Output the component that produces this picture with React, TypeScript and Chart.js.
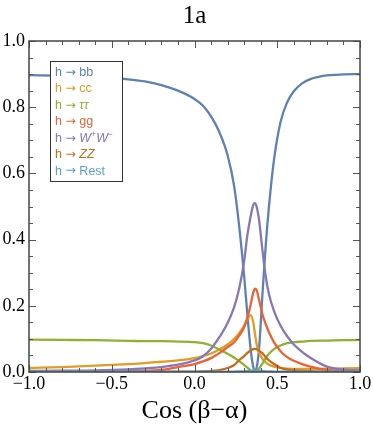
import React, { useEffect, useRef } from "react";
import { Chart, registerables } from "chart.js";

Chart.register(...registerables);

// cos(beta - alpha) sample positions
const xs = [-1, -0.8, -0.6, -0.4, -0.3, -0.2, -0.1, 0, 0.05, 0.1, 0.15, 0.2, 0.24, 0.27, 0.3, 0.32, 0.34, 0.355, 0.365, 0.375, 0.39, 0.41, 0.43, 0.45, 0.48, 0.52, 0.56, 0.6, 0.65, 0.7, 0.8, 0.9, 1];

const brBB = [0.897, 0.895, 0.892, 0.884, 0.878, 0.867, 0.85, 0.825, 0.805, 0.772, 0.725, 0.655, 0.56, 0.44, 0.29, 0.17, 0.065, 0.015, 0.004, 0.012, 0.07, 0.23, 0.38, 0.5, 0.64, 0.755, 0.815, 0.848, 0.872, 0.885, 0.896, 0.899, 0.9];
const brCC = [0.012, 0.015, 0.019, 0.024, 0.027, 0.031, 0.035, 0.042, 0.048, 0.056, 0.068, 0.083, 0.1, 0.117, 0.14, 0.16, 0.172, 0.15, 0.117, 0.085, 0.06, 0.04, 0.029, 0.022, 0.016, 0.012, 0.01, 0.009, 0.009, 0.009, 0.01, 0.011, 0.012];
const brTauTau = [0.098, 0.097, 0.096, 0.094, 0.093, 0.093, 0.092, 0.09, 0.087, 0.08, 0.068, 0.055, 0.043, 0.033, 0.021, 0.013, 0.005, 0.001, 0.0, 0.002, 0.01, 0.025, 0.042, 0.055, 0.069, 0.08, 0.087, 0.09, 0.092, 0.094, 0.095, 0.096, 0.097];
const brGG = [0.001, 0.001, 0.002, 0.003, 0.004, 0.006, 0.015, 0.024, 0.032, 0.042, 0.057, 0.075, 0.09, 0.11, 0.135, 0.165, 0.205, 0.24, 0.252, 0.248, 0.218, 0.175, 0.145, 0.12, 0.09, 0.063, 0.045, 0.034, 0.024, 0.016, 0.006, 0.003, 0.002];
const brWW = [0.003, 0.004, 0.005, 0.008, 0.011, 0.015, 0.022, 0.035, 0.047, 0.07, 0.105, 0.148, 0.197, 0.252, 0.335, 0.415, 0.472, 0.505, 0.51, 0.5, 0.46, 0.37, 0.29, 0.235, 0.185, 0.14, 0.108, 0.083, 0.061, 0.043, 0.016, 0.007, 0.005];
const brZZ = [0.0, 0.0, 0.0, 0.0, 0.0, 0.0005, 0.0008, 0.001, 0.002, 0.003, 0.006, 0.012, 0.021, 0.036, 0.048, 0.058, 0.065, 0.069, 0.07, 0.069, 0.064, 0.057, 0.045, 0.035, 0.024, 0.013, 0.007, 0.005, 0.003, 0.002, 0.001, 0.0005, 0.0005];
const brRest = [0.001, 0.001, 0.001, 0.001, 0.001, 0.001, 0.001, 0.001, 0.001, 0.001, 0.001, 0.001, 0.001, 0.002, 0.002, 0.003, 0.003, 0.004, 0.004, 0.004, 0.003, 0.003, 0.002, 0.002, 0.001, 0.001, 0.001, 0.001, 0.001, 0.001, 0.001, 0.001, 0.001];

const seriesValues = [brBB, brCC, brTauTau, brGG, brWW, brZZ, brRest];
const seriesNames = ["h → bb", "h → cc", "h → ττ", "h → gg", "h → W⁺W⁻", "h → ZZ", "h → Rest"];
const seriesColors = ["#5E81B5", "#E19C24", "#8FB032", "#EB6235", "#8778B3", "#C56E1A", "#5D9EC7"];

// legend text segments: [text, italic, superscript]
const legendSegments: [string, boolean, boolean][][] = [
  [["h ", false, false], ["→", false, false], [" bb", false, false]],
  [["h ", false, false], ["→", false, false], [" cc", false, false]],
  [["h ", false, false], ["→", false, false], [" ", false, false], ["ττ", true, false]],
  [["h ", false, false], ["→", false, false], [" gg", false, false]],
  [["h ", false, false], ["→", false, false], [" ", false, false], ["W", true, false], ["+", false, true], ["W", true, false], ["−", false, true]],
  [["h ", false, false], ["→", false, false], [" ", false, false], ["ZZ", true, false]],
  [["h ", false, false], ["→", false, false], [" Rest", false, false]],
];

const titleText = "1a";
const xAxisTitle = "Cos (β−α)";
const xMin = -1, xMax = 1, xMajorStep = 0.5, xMinorStep = 0.1;
const yMin = 0, yMax = 1, yMajorStep = 0.2, yMinorStep = 0.05;

const SERIF = '"Liberation Serif", "Times New Roman", serif';
const SANS = '"Liberation Sans", Arial, sans-serif';

const frameTicksPlugin = {
  id: "frameTicks",
  afterDatasetsDraw(chart: any) {
    const { ctx, chartArea } = chart;
    const { left, right, top, bottom } = chartArea;
    const xs_ = chart.scales.x;
    const ys_ = chart.scales.y;
    ctx.save();
    ctx.strokeStyle = "#555";
    ctx.lineWidth = 1;
    const nx = Math.round((xMax - xMin) / xMinorStep);
    const ratioX = Math.round(xMajorStep / xMinorStep);
    for (let i = 0; i <= nx; i++) {
      const v = xMin + i * xMinorStep;
      const px = Math.round(xs_.getPixelForValue(v)) + 0.5;
      const len = i % ratioX === 0 ? 7 : 4;
      ctx.beginPath();
      ctx.moveTo(px, bottom);
      ctx.lineTo(px, bottom - len);
      ctx.moveTo(px, top);
      ctx.lineTo(px, top + len);
      ctx.stroke();
    }
    const ny = Math.round((yMax - yMin) / yMinorStep);
    const ratioY = Math.round(yMajorStep / yMinorStep);
    for (let i = 0; i <= ny; i++) {
      const v = yMin + i * yMinorStep;
      const py = Math.round(ys_.getPixelForValue(v)) + 0.5;
      const len = i % ratioY === 0 ? 7 : 4;
      ctx.beginPath();
      ctx.moveTo(left, py);
      ctx.lineTo(left + len, py);
      ctx.moveTo(right, py);
      ctx.lineTo(right - len, py);
      ctx.stroke();
    }
    ctx.strokeStyle = "#444";
    ctx.lineWidth = 1.5;
    ctx.strokeRect(left, top, right - left, bottom - top);
    ctx.restore();
  },
  afterDraw(chart: any) {
    const { ctx, chartArea } = chart;
    ctx.save();
    // title
    ctx.fillStyle = "#000";
    ctx.font = `25px ${SERIF}`;
    ctx.textAlign = "center";
    ctx.textBaseline = "middle";
    ctx.fillText(titleText, (chartArea.left + chartArea.right) / 2, 16);
    // legend
    const bx = 50, by = 61, bw = 72, bh = 120;
    ctx.fillStyle = "#fff";
    ctx.fillRect(bx, by, bw, bh);
    ctx.strokeStyle = "#333";
    ctx.lineWidth = 1;
    ctx.strokeRect(bx + 0.5, by + 0.5, bw, bh);
    ctx.textBaseline = "middle";
    ctx.textAlign = "left";
    const size = 12.5;
    legendSegments.forEach((segs, i) => {
      let x = 55;
      const y = 72.5 + i * 16.45;
      ctx.fillStyle = seriesColors[i];
      segs.forEach(([t, it, sup]) => {
        const fs = sup ? 8.5 : size;
        const fam = t === "→" ? '"DejaVu Sans", sans-serif' : SANS;
        ctx.font = `${it ? "italic " : ""}${fs}px ${fam}`;
        ctx.fillText(t, x, sup ? y - 4 : y);
        x += ctx.measureText(t).width;
      });
    });
    ctx.restore();
  },
};

export default function App() {
  const ref = useRef<HTMLCanvasElement | null>(null);
  useEffect(() => {
    document.body.style.margin = "0";
    const canvas = ref.current!;
    const datasets = seriesValues.map((vals, i) => ({
      label: seriesNames[i],
      data: xs.map((x, j) => ({ x, y: vals[j] })),
      borderColor: seriesColors[i],
      backgroundColor: seriesColors[i],
      borderWidth: 2.3,
      pointRadius: 0,
      fill: false,
      cubicInterpolationMode: "monotone" as const,
      order: seriesValues.length - i,
    }));
    const chart = new Chart(canvas, {
      type: "line",
      data: { datasets },
      plugins: [frameTicksPlugin],
      options: {
        animation: false,
        responsive: false,
        devicePixelRatio: 1,
        layout: { padding: { left: 0, right: 14, top: 41, bottom: 0 } },
        plugins: {
          legend: { display: false },
          tooltip: { enabled: false },
          title: { display: false },
        },
        scales: {
          x: {
            type: "linear",
            min: xMin,
            max: xMax,
            grid: { display: false, drawTicks: false, tickLength: 0 },
            border: { display: false },
            ticks: {
              stepSize: xMajorStep,
              color: "#000",
              font: { family: SERIF, size: 18 },
              padding: 1,
              maxRotation: 0,
              callback: (v: any) => (Number(v) < 0 ? "−" : "") + Math.abs(Number(v)).toFixed(1),
            },
            title: {
              display: true,
              text: xAxisTitle,
              color: "#000",
              font: { family: SERIF, size: 26 },
              padding: { top: 0, bottom: 1 },
            },
            afterFit: (s: any) => { s.height = 56; },
          },
          y: {
            type: "linear",
            min: yMin,
            max: yMax,
            grid: { display: false, drawTicks: false, tickLength: 0 },
            border: { display: false },
            ticks: {
              stepSize: yMajorStep,
              color: "#000",
              font: { family: SERIF, size: 18 },
              padding: 4,
              callback: (v: any) => Number(v).toFixed(1),
            },
            afterFit: (s: any) => { s.width = 29; },
          },
        },
      },
    });
    return () => chart.destroy();
  }, []);
  return (
    <div style={{ position: "fixed", left: 0, top: 0, width: 374, height: 428, background: "#fff" }}>
      <canvas ref={ref} width={374} height={428} />
    </div>
  );
}
